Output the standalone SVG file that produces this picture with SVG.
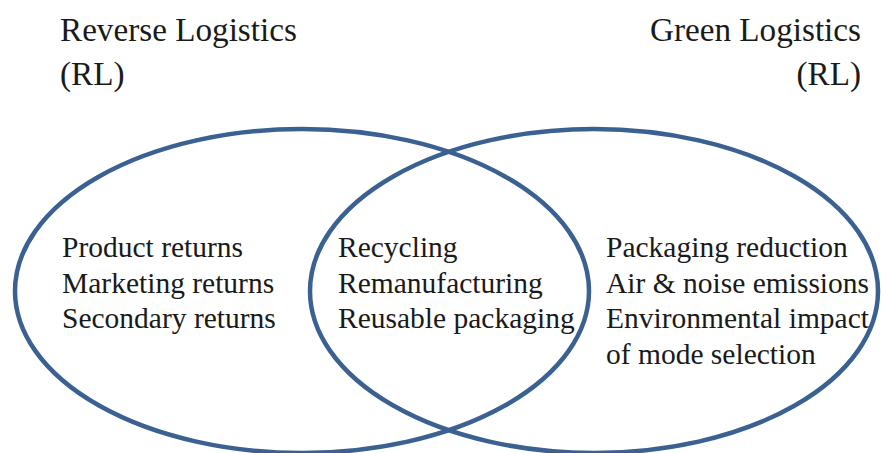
<svg xmlns="http://www.w3.org/2000/svg" width="884" height="453" viewBox="0 0 884 453">
  <style>
    .set { fill: none; stroke: #3b6192; stroke-width: 4.5; }
    .title { font-family: "Liberation Serif", "Times New Roman", serif; font-size: 33.2px; fill: #1a1a1a; }
    .item { font-family: "Liberation Serif", "Times New Roman", serif; font-size: 29.5px; fill: #1a1a1a; }
  </style>
  <rect width="884" height="453" fill="#ffffff"/>

  <!-- set outlines -->
  <g id="connectors"></g>
  <g id="set-rl">
    <ellipse class="set" cx="302" cy="291" rx="287" ry="162"/>
  </g>
  <g id="set-gl">
    <ellipse class="set" cx="594" cy="291" rx="284" ry="162"/>
  </g>

  <!-- headings -->
  <g id="label-rl">
    <text class="title" x="60" y="41">Reverse Logistics</text>
    <text class="title" x="60" y="85">(RL)</text>
  </g>
  <g id="label-gl">
    <text class="title" x="861" y="41" text-anchor="end">Green Logistics</text>
    <text class="title" x="861" y="85" text-anchor="end">(RL)</text>
  </g>

  <!-- reverse logistics only -->
  <g id="items-rl">
    <text class="item" x="62" y="257">Product returns</text>
    <text class="item" x="62" y="292.5">Marketing returns</text>
    <text class="item" x="62" y="328">Secondary returns</text>
  </g>

  <!-- overlap -->
  <g id="items-both">
    <text class="item" x="338" y="257">Recycling</text>
    <text class="item" x="338" y="292.5">Remanufacturing</text>
    <text class="item" x="338" y="328">Reusable packaging</text>
  </g>

  <!-- green logistics only -->
  <g id="items-gl">
    <text class="item" x="606" y="257">Packaging reduction</text>
    <text class="item" x="606" y="292.5">Air &amp; noise emissions</text>
    <text class="item" x="606" y="328">Environmental impact</text>
    <text class="item" x="606" y="363.5">of mode selection</text>
  </g>
</svg>
